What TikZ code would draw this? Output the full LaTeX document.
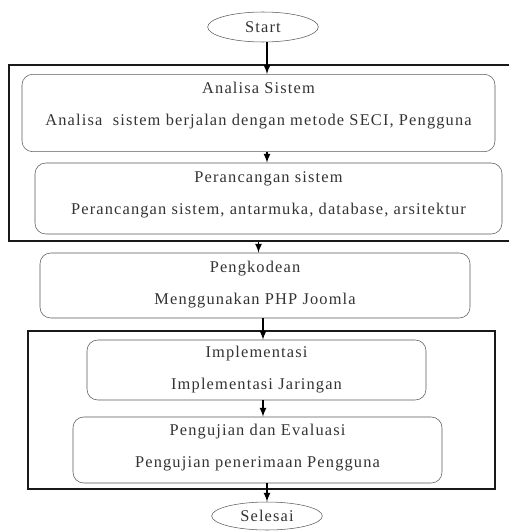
\documentclass[tikz,border=0pt]{standalone}
\usepackage{fontspec}
\setmainfont{Liberation Serif}[LetterSpace=7]
\usetikzlibrary{shapes.geometric,positioning}
\newcommand{\steptext}[3][0pt]{\raisebox{#1}[0pt][0pt]{\begin{tabular}{@{}c@{}}#2\\[10pt]#3\end{tabular}}}
\begin{document}
\begin{tikzpicture}[
    x=0.75pt, y=-0.75pt,
    every node/.style={font=\fontsize{12.3}{14}\selectfont, align=center, text=black!80},
    stepbox/.style={draw=black!65, rounded corners=8pt, inner sep=0pt},
    term/.style={draw=black!65, ellipse, inner sep=0pt, minimum width=83pt},
    frame/.style={draw=black!90, line width=0.8pt, inner sep=0pt},
    flow/.style={draw, line width=1.3pt, -latex}
]
\useasboundingbox (0,0) rectangle (509,531);
% outer frames
\node[frame, minimum width=379.5pt, minimum height=132pt] (frameA) at (262,153) {};
\node[frame, minimum width=350.25pt, minimum height=118.5pt] (frameB) at (261.5,410) {};
% terminals
\node[term, minimum height=22.5pt] (start) at (263,27) {Start};
\node[term, minimum height=21pt] (selesai) at (267,516) {Selesai};
% steps
\node[stepbox, minimum width=354.75pt, minimum height=58pt] (analisa) at (258.5,113)
    {\steptext[2.5pt]{Analisa Sistem}{Analisa \ sistem berjalan dengan metode SECI, Pengguna}};
\node[stepbox, minimum width=350.25pt, minimum height=53.25pt] (perancangan) at (268.5,198.5)
    {\steptext[0pt]{Perancangan sistem}{Perancangan sistem, antarmuka, database, arsitektur}};
\node[stepbox, minimum width=322.5pt, minimum height=48.75pt] (pengkodean) at (255,285.5)
    {\steptext[-2.5pt]{Pengkodean}{Menggunakan PHP Joomla}};
\node[stepbox, minimum width=254.25pt, minimum height=45pt] (implementasi) at (256.5,370)
    {\steptext[-3pt]{Implementasi}{Implementasi Jaringan}};
\node[stepbox, minimum width=276.75pt, minimum height=49.5pt] (pengujian) at (257.5,450)
    {\steptext[-1pt]{Pengujian dan Evaluasi}{Pengujian penerimaan Pengguna}};
% arrows
\draw[flow] (start.south -| selesai.north) -- (analisa.north -| selesai.north);
\draw[flow] (analisa.south -| selesai.north) -- (perancangan.north -| selesai.north);
\draw[flow] (frameA.south -| analisa.center) -- (pengkodean.north -| analisa.center);
\draw[flow] (pengkodean.south -| start.center) -- (implementasi.north -| start.center);
\draw[flow] (implementasi.south -| start.center) -- (pengujian.north -| start.center);
\draw[flow] (pengujian.south -| selesai.north) -- (selesai.north);
\end{tikzpicture}
\end{document}
